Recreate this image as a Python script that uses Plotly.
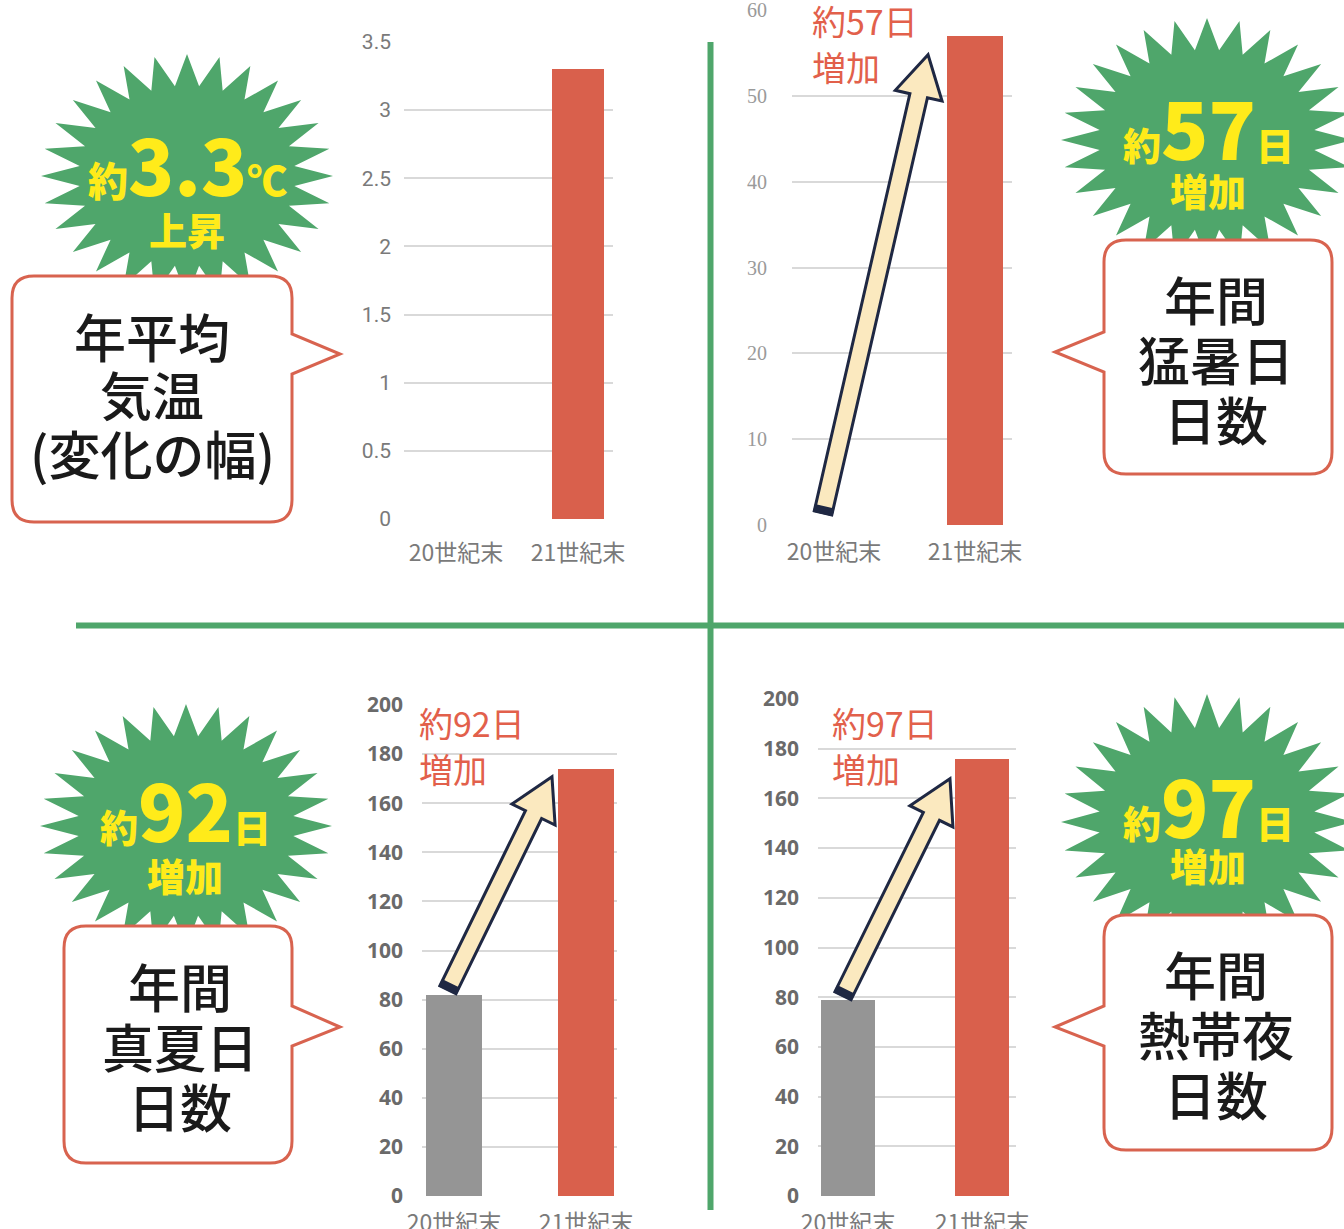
import plotly.graph_objects as go

W, H = 1344, 1229

# ---- data -------------------------------------------------------------
periods = ["20世紀末", "21世紀末"]
temp_change = [0, 3.3]          # 年平均気温の変化幅 (℃)
extreme_hot_days = [0, 57]      # 年間猛暑日日数
summer_days = [82, 174]         # 年間真夏日日数
tropical_nights = [79, 176]     # 年間熱帯夜日数

temp_ticks = [0, 0.5, 1, 1.5, 2, 2.5, 3, 3.5]
hot_ticks = [0, 10, 20, 30, 40, 50, 60]
day_ticks = [0, 20, 40, 60, 80, 100, 120, 140, 160, 180, 200]

# ---- styling ------------------------------------------------------------
RED = "#d9604c"
GRAY = "#959595"
GREEN = "#4fa66b"
YELLOW = "#ffeb1a"
BORDER = "#d8634f"
NAVY = "#1f2843"
CREAM = "#fbe9bf"
JP = "Noto Sans CJK JP"


def P(x, y):
    """pixel position -> paper coordinates"""
    return x / W, 1 - y / H


# panel geometry: x pixel span, x range, y pixel span (bottom, top), y max
panels = {
    1: dict(xs=(404, 613), xr=(-0.426, 1.287), ys=(519, 42), ymax=3.5),
    2: dict(xs=(792, 1012), xr=(-0.298, 1.262), ys=(525, 10), ymax=60),
    3: dict(xs=(422, 617), xr=(-0.242, 1.235), ys=(1196, 705), ymax=200),
    4: dict(xs=(818, 1016), xr=(-0.224, 1.254), ys=(1196, 699), ymax=200),
}


def to_px(k, xv, yv):
    g = panels[k]
    x0, x1 = g["xs"]
    r0, r1 = g["xr"]
    yb, yt = g["ys"]
    px = x0 + (xv - r0) / (r1 - r0) * (x1 - x0)
    py = yb - yv / g["ymax"] * (yb - yt)
    return px, py


fig = go.Figure()

series = {1: temp_change, 2: extreme_hot_days, 3: summer_days, 4: tropical_nights}
widths = {1: 0.42, 2: 0.40, 3: 0.42, 4: 0.41}
for k, vals in series.items():
    sfx = "" if k == 1 else str(k)
    fig.add_trace(go.Bar(
        x=periods, y=vals, width=widths[k],
        marker=dict(color=[GRAY, RED], line=dict(width=0)),
        xaxis="x" + sfx, yaxis="y" + sfx, showlegend=False, hoverinfo="skip",
    ))

tickfonts = {
    1: dict(family="Roboto", size=21, color="#7a7a7a"),
    2: dict(family="Liberation Serif", size=20, color="#9a9a9a"),
    3: dict(family="Open Sans", size=21, color="#6a6a6a", weight=700),
    4: dict(family="Open Sans", size=21, color="#6a6a6a", weight=700),
}
tickvals = {1: temp_ticks, 2: hot_ticks, 3: day_ticks, 4: day_ticks}
ystandoff = {1: 12, 2: 24, 3: 18, 4: 18}
xstandoff = {1: 18, 2: 11, 3: 11, 4: 11}

layout = dict(
    width=W, height=H,
    margin=dict(l=0, r=0, t=0, b=0, pad=0, autoexpand=False),
    paper_bgcolor="white", plot_bgcolor="white", bargap=0,
)
for k, g in panels.items():
    sfx = "" if k == 1 else str(k)
    layout["xaxis" + sfx] = dict(
        domain=[g["xs"][0] / W, g["xs"][1] / W], range=list(g["xr"]),
        type="category", categoryorder="array", categoryarray=periods,
        anchor="y" + sfx, showgrid=False, zeroline=False, showline=False,
        ticks="", ticklabelstandoff=xstandoff[k], automargin=False,
        ticklabeloverflow="allow",
        tickfont=dict(family=JP, size=23, color="#7a7a7a"), fixedrange=True,
    )
    layout["yaxis" + sfx] = dict(
        domain=[1 - g["ys"][0] / H, 1 - g["ys"][1] / H], range=[0, g["ymax"]],
        anchor="x" + sfx, tickvals=tickvals[k], showgrid=True,
        gridcolor="#d9d9d9", gridwidth=2, zeroline=False, showline=False,
        ticks="", ticklabelstandoff=ystandoff[k], tickfont=tickfonts[k],
        ticklabeloverflow="allow", automargin=False, fixedrange=True,
    )
fig.update_layout(**layout)

shapes = []


def path_of(points, close=True):
    s = ""
    for i, (x, y) in enumerate(points):
        px, py = P(x, y)
        s += ("M" if i == 0 else "L") + f"{px:.5f},{py:.5f}"
    return s + ("Z" if close else "")


def starburst(cx, cy, rx, ry, n=28, inner=0.74, phase=0.0):
    import math
    pts = []
    for i in range(2 * n):
        a = phase + math.pi * i / n
        r = 1.0 if i % 2 == 0 else inner
        pts.append((cx + rx * r * math.sin(a), cy - ry * r * math.cos(a)))
    shapes.append(dict(type="path", xref="paper", yref="paper",
                       path=path_of(pts), fillcolor=GREEN, line=dict(width=0)))


def bubble(x0, y0, x1, y1, side, ty, tip, r=22):
    """rounded box with a pointer on the left or right side"""
    def p(x, y):
        a, b = P(x, y)
        return f"{a:.5f},{b:.5f}"
    t0, t1 = ty
    s = "M" + p(x0 + r, y0) + "L" + p(x1 - r, y0) + "Q" + p(x1, y0) + " " + p(x1, y0 + r)
    if side == "right":
        s += "L" + p(x1, t0) + "L" + p(*tip) + "L" + p(x1, t1)
    s += "L" + p(x1, y1 - r) + "Q" + p(x1, y1) + " " + p(x1 - r, y1)
    s += "L" + p(x0 + r, y1) + "Q" + p(x0, y1) + " " + p(x0, y1 - r)
    if side == "left":
        s += "L" + p(x0, t1) + "L" + p(*tip) + "L" + p(x0, t0)
    s += "L" + p(x0, y0 + r) + "Q" + p(x0, y0) + " " + p(x0 + r, y0) + "Z"
    shapes.append(dict(type="path", xref="paper", yref="paper", path=s,
                       fillcolor="white", line=dict(color=BORDER, width=3)))


def block_arrow(k, tail_val, tip_val, tail_off, tip_off,
                w=9, hw=24, hl=42):
    import math
    tx, ty = to_px(k, 0, tail_val)
    ex, ey = to_px(k, 1, tip_val)
    tx, ty = tx + tail_off[0], ty + tail_off[1]
    ex, ey = ex + tip_off[0], ey + tip_off[1]
    dx, dy = ex - tx, ey - ty
    L = math.hypot(dx, dy)
    ux, uy = dx / L, dy / L
    nx, ny = -uy, ux
    bx, by = ex - ux * hl, ey - uy * hl
    pts = [
        (tx + nx * w, ty + ny * w), (bx + nx * w, by + ny * w),
        (bx + nx * hw, by + ny * hw), (ex, ey),
        (bx - nx * hw, by - ny * hw), (bx - nx * w, by - ny * w),
        (tx - nx * w, ty - ny * w),
    ]
    shapes.append(dict(type="path", xref="paper", yref="paper",
                       path=path_of(pts), fillcolor=CREAM,
                       line=dict(color=NAVY, width=3)))
    # darker base of the arrow
    base = [(tx + nx * w, ty + ny * w), (tx + nx * w + ux * 6, ty + ny * w + uy * 6),
            (tx - nx * w + ux * 6, ty - ny * w + uy * 6), (tx - nx * w, ty - ny * w)]
    shapes.append(dict(type="path", xref="paper", yref="paper",
                       path=path_of(base), fillcolor=NAVY,
                       line=dict(color=NAVY, width=2)))


# starbursts behind the callout boxes
starburst(187, 176, 146, 122)
starburst(1207, 140, 146, 122)
starburst(186, 826, 146, 122)
starburst(1207, 822, 146, 128)

bubble(12, 276, 292, 522, "right", (334, 374), (340, 354))
bubble(1104, 240, 1332, 474, "left", (332, 372), (1055, 352))
bubble(64, 926, 292, 1163, "right", (1006, 1046), (340, 1027))
bubble(1104, 915, 1332, 1150, "left", (1006, 1046), (1055, 1027))

block_arrow(2, extreme_hot_days[0], extreme_hot_days[1], (-11, -12), (-47, 19))
block_arrow(3, summer_days[0], summer_days[1], (-6, -5), (-34, 8))
block_arrow(4, tropical_nights[0], tropical_nights[1], (-5, -4), (-32, 20))

# green dividers
shapes.append(dict(type="line", xref="paper", yref="paper",
                   x0=710.5 / W, x1=710.5 / W, y0=1 - 42 / H, y1=1 - 1210 / H,
                   line=dict(color=GREEN, width=6)))
shapes.append(dict(type="line", xref="paper", yref="paper",
                   x0=76 / W, x1=1, y0=1 - 625.5 / H, y1=1 - 625.5 / H,
                   line=dict(color=GREEN, width=6)))

fig.update_layout(shapes=shapes)

ann = []


def text(x, y, s, size, color, weight=500, family=JP, xanchor="center"):
    px, py = P(x, y)
    ann.append(dict(xref="paper", yref="paper", x=px, y=py, text=s,
                    showarrow=False, xanchor=xanchor, yanchor="middle",
                    font=dict(family=family, size=size, color=color, weight=weight)))


def big(a, num, b, nsize=72, ssize=38):
    return (f"<span style='font-size:{ssize}px'>{a}</span>"
            f"<span style='font-size:{nsize}px'>{num}</span>"
            f"<span style='font-size:{ssize}px'>{b}</span>")


# starburst captions
text(187, 163, big("約", "3.3", "℃", 76, 40), 40, YELLOW, 900)
text(187, 228, "上昇", 38, YELLOW, 900)
text(1208, 126, big("約", "57", "日", 78, 38), 38, YELLOW, 900)
text(1208, 190, "増加", 38, YELLOW, 900)
text(185, 808, big("約", "92", "日", 78, 38), 38, YELLOW, 900)
text(185, 874, "増加", 38, YELLOW, 900)
text(1208, 804, big("約", "97", "日", 78, 38), 38, YELLOW, 900)
text(1208, 865, "増加", 38, YELLOW, 900)

# callout labels
for x, ys, lines in [
    (152, (335, 394, 452), ["年平均", "気温", "(変化の幅)"]),
    (1216, (298, 358, 418), ["年間", "猛暑日", "日数"]),
    (180, (985, 1045, 1105), ["年間", "真夏日", "日数"]),
    (1216, (973, 1033, 1093), ["年間", "熱帯夜", "日数"]),
]:
    for y, s in zip(ys, lines):
        text(x, y, s, 52, "#1a1a1a", 500)

# increase labels beside the arrows
for x, y, s in [(810, 20, "約57日"), (810, 66, "増加"),
                (417, 722, "約92日"), (417, 768, "増加"),
                (830, 722, "約97日"), (830, 768, "増加")]:
    text(x, y, s, 34, "#e2604b", 400, xanchor="left")

fig.update_layout(annotations=ann)

fig.write_html("out.html", config={"displayModeBar": False})
